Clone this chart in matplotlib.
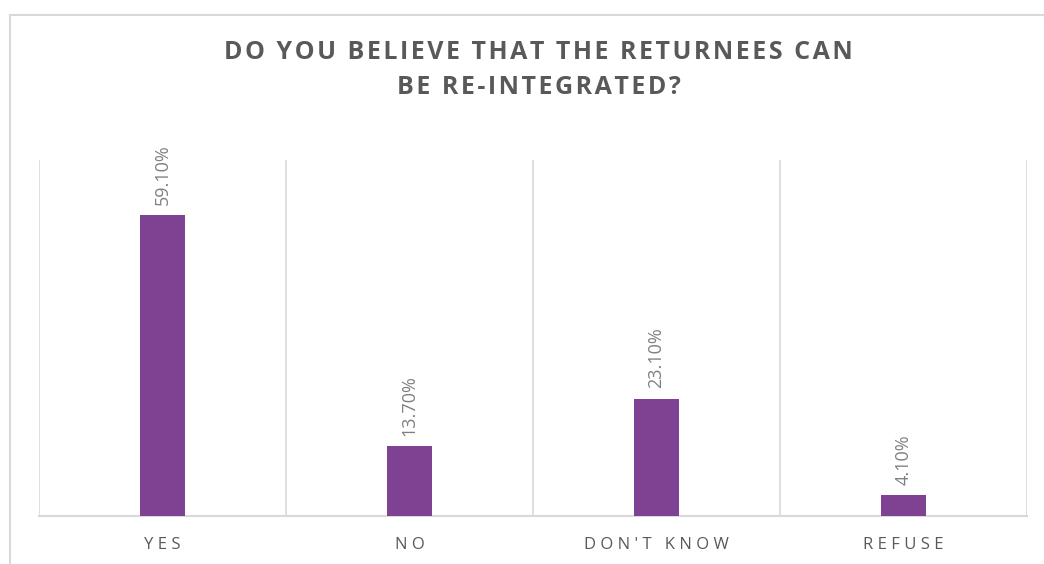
import matplotlib
matplotlib.use("Agg")
import matplotlib.pyplot as plt
from matplotlib.patches import Rectangle

categories = ["YES", "NO", "DON'T KNOW", "REFUSE"]
values = [59.1, 13.7, 23.1, 4.1]
value_labels = ["59.10%", "13.70%", "23.10%", "4.10%"]
title_lines = ["DO YOU BELIEVE THAT THE RETURNEES CAN", "BE RE-INTEGRATED?"]

FAM = ["Open Sans", "DejaVu Sans"]
plt.rcParams["font.family"] = FAM

W, H = 1044, 564
fig = plt.figure(figsize=(W / 100, H / 100), dpi=100)
fig.patch.set_facecolor("white")

# chart frame
fig.patches.append(Rectangle((10 / W, -0.2), 1.2, (H - 15) / H + 0.2,
                             transform=fig.transFigure, fill=False,
                             edgecolor="#d9d9d9", linewidth=1.5, zorder=0))

ax = fig.add_axes([39 / W, (H - 516) / H, (1027 - 39) / W, (516 - 160) / H])
x = list(range(len(categories)))
ax.bar(x, values, width=0.18, color="#7F4192", zorder=3)
ax.set_xlim(-0.5, len(categories) - 0.5)
ax.set_ylim(0, 70)

for s in ["top", "left", "right"]:
    ax.spines[s].set_visible(False)
ax.spines["bottom"].set_color("#d9d9d9")
ax.spines["bottom"].set_linewidth(1.5)
ax.set_yticks([])

for b in [i - 0.5 for i in range(len(categories) + 1)]:
    ax.axvline(b, color="#d9d9d9", linewidth=1.2, zorder=1)


def spread(s, sep):
    return sep.join(s)


spaced = [spread(c, "\u2009\u200a") for c in categories]
ax.set_xticks(x)
ax.set_xticklabels(spaced, fontsize=12, color="#595959")
ax.tick_params(axis="x", length=0, pad=15)

for xi, v, lab in zip(x, values, value_labels):
    ax.annotate(lab, (xi, v), xytext=(0, 7.5), textcoords="offset points",
                rotation=90, ha="center", va="bottom", fontsize=13,
                color="#808080")

title = "\n".join(spread(t, "\u200a") for t in title_lines)
fig.text(0.516, (H - 70) / H, title, ha="center", va="center",
         fontsize=18, fontweight="bold", color="#595959",
         linespacing=1.5)

fig.savefig("out.png", dpi=100)
